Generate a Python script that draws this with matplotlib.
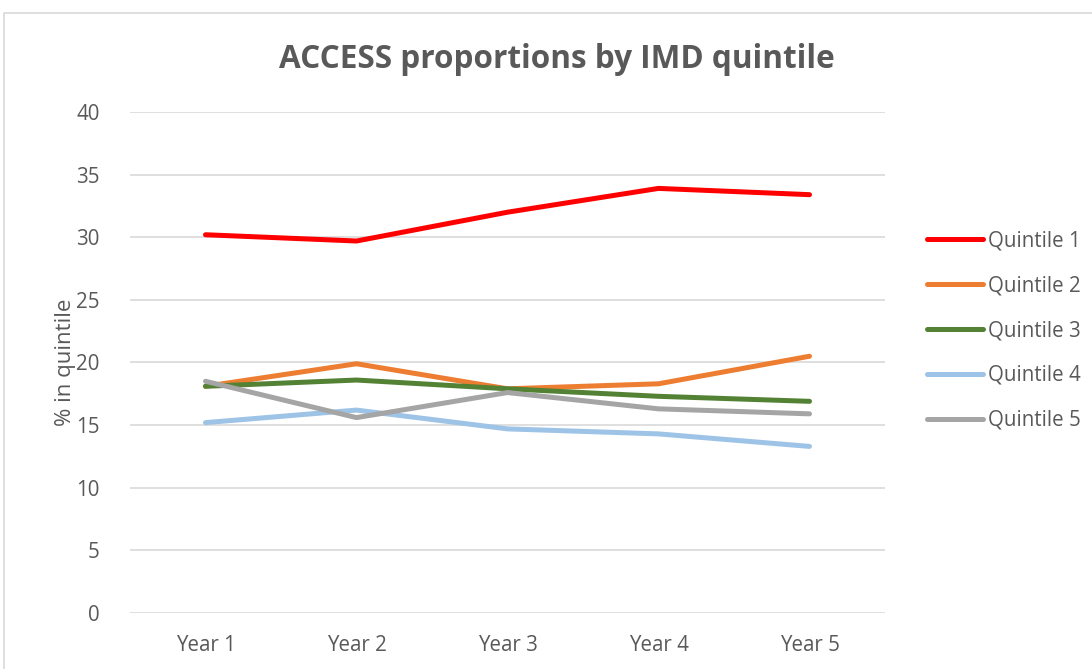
import matplotlib
matplotlib.use("Agg")
import matplotlib.pyplot as plt
from matplotlib.patches import Rectangle

# --- data ---
years = ["Year 1", "Year 2", "Year 3", "Year 4", "Year 5"]
quintile_1 = [30.2, 29.7, 32.0, 33.9, 33.4]
quintile_2 = [18.1, 19.9, 17.9, 18.3, 20.5]
quintile_3 = [18.1, 18.6, 17.9, 17.3, 16.9]
quintile_4 = [15.2, 16.2, 14.7, 14.3, 13.3]
quintile_5 = [18.5, 15.6, 17.6, 16.3, 15.9]
series_names = ["Quintile 1", "Quintile 2", "Quintile 3", "Quintile 4", "Quintile 5"]
y_ticks = [0, 5, 10, 15, 20, 25, 30, 35, 40]

COLORS = ["#ff0000", "#ed7d31", "#548235", "#9dc3e6", "#a5a5a5"]
TXT = "#595959"
GRID = "#d9d9d9"
FS = 14.8

plt.rcParams["font.family"] = ["Open Sans", "DejaVu Sans"]

fig = plt.figure(figsize=(10.92, 6.69), dpi=100)
# light chart-area border, cut off at right and bottom like the screenshot
fig.patches.append(Rectangle((4 / 1092, -0.1), 1.2, 1.1 - 13 / 669,
                             transform=fig.transFigure, fill=False,
                             edgecolor="#d9d9d9", lw=1.2))

ax = fig.add_axes([130 / 1092, 56 / 669, 755 / 1092, 501 / 669])
x = list(range(len(years)))
for name, vals, c in zip(series_names,
                         [quintile_1, quintile_2, quintile_3, quintile_4, quintile_5],
                         COLORS):
    ax.plot(x, vals, color=c, lw=3.6, label=name, solid_capstyle="round")

ax.set_xlim(-0.5, len(years) - 0.5)
ax.set_ylim(0, 40)
ax.set_yticks(y_ticks)
ax.set_xticks(x)
ax.set_xticklabels(years)
ax.tick_params(length=0, colors=TXT, labelsize=FS)
ax.tick_params(axis="y", pad=22)
ax.tick_params(axis="x", pad=16)
ax.grid(axis="y", color=GRID, lw=1.2)
ax.set_axisbelow(True)
for s in ax.spines.values():
    s.set_visible(False)

ax.set_ylabel("% in quintile", color=TXT, fontsize=16, labelpad=0)
fig.text(557 / 1092, 1 - 59 / 669, "ACCESS proportions by IMD quintile",
         ha="center", va="center", fontsize=22.7, fontweight="bold", color=TXT)

leg = ax.legend(loc="upper left", bbox_to_anchor=(1.045, 0.78), frameon=False,
                fontsize=FS, handlelength=2.7, handletextpad=0.25,
                labelspacing=1.16, borderaxespad=0)
for t in leg.get_texts():
    t.set_color(TXT)

fig.savefig("out.png", dpi=100)
